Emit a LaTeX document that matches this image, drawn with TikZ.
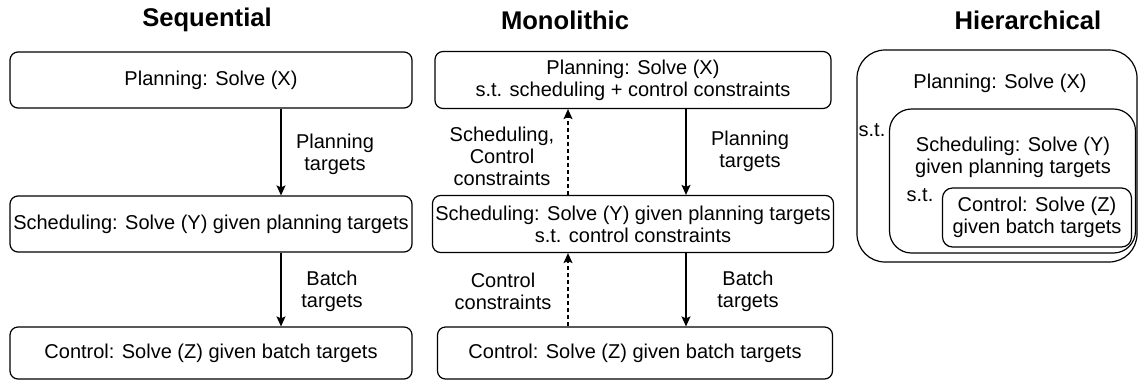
\documentclass[tikz,border=0pt]{standalone}
\usepackage{fontspec}
\setmainfont{Liberation Sans}
\usetikzlibrary{arrows.meta,calc}
\begin{document}
\begin{tikzpicture}[x=0.5pt,y=-0.5pt]
	\tikzstyle{every node}=[font=\fontsize{10}{11}\selectfont, align=center, inner sep=0pt]
	\tikzstyle{box}=[draw, line width=0.6pt, rounded corners=4pt]
	\tikzstyle{title}=[font=\fontsize{12.8}{14}\selectfont\bfseries]
	\tikzstyle{relation}=[line width=0.6pt, -{Stealth[length=5pt,width=4.5pt,inset=1pt]}]
	\tikzstyle{feedback}=[relation, dashed, dash pattern=on 2pt off 1.5pt]

	\useasboundingbox (0,0) rectangle (1140,381);

	% Sequential
	\node[title] (seq) at (207,20) {Sequential};
	\node[box, minimum width=201pt, minimum height=28pt] (seqplan) at (211,80) {Planning: Solve (X)};
	\node[box, minimum width=201pt, minimum height=28pt] (seqsched) at (211,224) {Scheduling: Solve (Y) given planning targets};
	\node[box, minimum width=201pt, minimum height=26pt] (seqctrl) at (211,353) {Control: Solve (Z) given batch targets};
	\node (seqplantgt) at (335,154) {Planning\\targets};
	\node (seqbatchtgt) at (332,291) {Batch\\targets};
	\draw[relation] ($(seqplan.south)+(70,0)$) -- ($(seqsched.north)+(70,0)$);
	\draw[relation] ($(seqsched.south)+(70,0)$) -- ($(seqctrl.north)+(70,0)$);

	% Monolithic
	\node[title] (mono) at (565,20) {Monolithic};
	\node[box, minimum width=198pt, minimum height=28.5pt] (monplan) at (633,80) {Planning: Solve (X)\\s.t. scheduling + control constraints};
	\node[box, minimum width=200.5pt, minimum height=28.5pt] (monsched) at (633,224) {Scheduling: Solve (Y) given planning targets\\s.t. control constraints};
	\node[box, minimum width=197.5pt, minimum height=26pt] (monctrl) at (635,353) {Control: Solve (Z) given batch targets};
	\node (monconstr) at (502,156) {Scheduling,\\Control\\constraints};
	\node (monplantgt) at (750,151) {Planning\\targets};
	\node (monctrlconstr) at (503,291) {Control\\constraints};
	\node (monbatchtgt) at (748,291) {Batch\\targets};
	\draw[relation] ($(monplan.south)+(53,0)$) -- ($(monsched.north)+(53,0)$);
	\draw[relation] ($(monsched.south)+(53,0)$) -- ($(monctrl.north)+(51,0)$);
	\draw[feedback] ($(monsched.north)+(-65,0)$) -- ($(monplan.south)+(-65,0)$);
	\draw[feedback] ($(monctrl.north)+(-67,0)$) -- ($(monsched.south)+(-65,0)$);

	% Hierarchical
	\node[title] (hier) at (1028,20) {Hierarchical};
	\node[box, rounded corners=14pt, minimum width=140pt, minimum height=106pt] (hplan) at (997,156) {};
	\node[box, rounded corners=11pt, minimum width=123pt, minimum height=72pt] (hsched) at (1012.5,181) {};
	\node[box, rounded corners=5pt, minimum width=94.5pt, minimum height=29.5pt] (hctrl) at (1037,217.5) {Control: Solve (Z)\\given batch targets};
	\node (hplantxt) at (1000,83) {Planning: Solve (X)};
	\node (hst1) at (872,130) {s.t.};
	\node (hschedtxt) at (1013,157) {Scheduling: Solve (Y)\\given planning targets};
	\node (hst2) at (920,195) {s.t.};
\end{tikzpicture}
\end{document}
